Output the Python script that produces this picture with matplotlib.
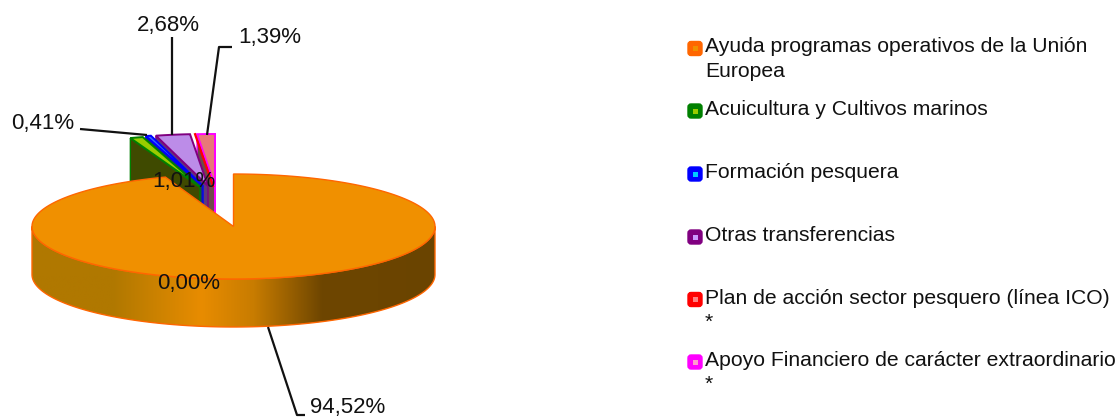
import numpy as np
import matplotlib
matplotlib.use("Agg")
import matplotlib.pyplot as plt
from matplotlib.colors import LinearSegmentedColormap
from matplotlib.patches import FancyBboxPatch, PathPatch, Rectangle
from matplotlib.path import Path

plt.rcParams['font.family'] = ['Liberation Sans', 'DejaVu Sans']

# data
categories = ["Ayuda programas operativos de la Unión\nEuropea",
              "Acuicultura y Cultivos marinos",
              "Formación pesquera",
              "Otras transferencias",
              "Plan de acción sector pesquero (línea ICO)\n*",
              "Apoyo Financiero de carácter extraordinario\n*"]
values = [94.52, 1.01, 0.41, 2.68, 0.00, 1.39]
value_labels = ["94,52%", "1,01%", "0,41%", "2,68%", "0,00%", "1,39%"]

edge_colors = ["#ff6600", "#008000", "#0000ff", "#800080", "#ff0000", "#ff00ff"]
face_colors = ["#f09000", "#99cc00", "#3366ff", "#bc8ce8", "#ff8080", "#e87878"]
side_colors = ["#8a5600", "#3f4a00", "#1a2a80", "#5e3a78", "#803030", "#6e4a4a"]
legend_centres = ["#f09000", "#99cc00", "#00ccff", "#cc99ff", "#ff8080", "#ff99cc"]

W, H = 1117, 418
fig = plt.figure(figsize=(W / 100, H / 100), dpi=100, facecolor="white")
ax = fig.add_axes([0, 0, 1, 1])
ax.set_xlim(0, W)
ax.set_ylim(H, 0)
ax.axis("off")

cx, cy, rx, ry, depth = 233.5, 226.5, 201.5, 52.5, 48
# where each exploded slice has its apex (series 1..5)
apex = {1: (200, 187), 2: (203, 186), 3: (208, 186), 4: (213, 186), 5: (215, 186)}
ex_rx, ex_ry = 206, 52


def rim(a0, a1, xc, yc, a, b, n=120):
    t = np.radians(np.linspace(a0, a1, n))
    return xc + a * np.sin(t), yc - b * np.cos(t)


deg = np.array(values) / sum(values) * 360
a_end = 360.0
small = []
for i in range(5, 0, -1):
    small.append((i, a_end - deg[i], a_end))
    a_end -= deg[i]

# exploded slices, right to left so that each covers the wall of the previous one
for i, a0, a1 in small:
    ax_, ay_ = apex[i]
    z = 2 + 0.1 * (5 - i)
    x, y = rim(a0, a1, ax_, ay_, ex_rx, ex_ry, 30)
    wall_x = [x[0], ax_, ax_, x[0]]
    wall_y = [y[0], ay_, ay_ + depth, y[0] + depth]
    if deg[i] == 0:
        ax.plot([ax_, x[0]], [ay_, y[0]], color=edge_colors[i], lw=1.6, zorder=z)
        continue
    ax.fill(wall_x, wall_y, facecolor=side_colors[i], edgecolor=edge_colors[i], lw=1, zorder=z)
    ax.fill(np.r_[ax_, x], np.r_[ay_, y], facecolor=face_colors[i],
            edgecolor=edge_colors[i], lw=1.4, joinstyle="miter", zorder=z + 0.05)
    if i == 5:
        ax.plot([x[-1], x[-1]], [y[-1], ay_ + depth], color=edge_colors[i], lw=1.4, zorder=z + 0.06)

# main slice: side wall with horizontal gradient, then top
bx, by = rim(90, 270, cx, cy, rx, ry)
verts = np.r_[np.c_[bx, by], np.c_[bx[::-1], by[::-1] + depth], [[bx[0], by[0]]]]
codes = [Path.MOVETO] + [Path.LINETO] * (len(verts) - 2) + [Path.CLOSEPOLY]
side_path = Path(verts, codes)
grad = LinearSegmentedColormap.from_list(
    "side", [(0, "#b07800"), (0.2, "#b07800"), (0.42, "#e88c00"),
             (0.55, "#c87c00"), (0.72, "#6e4600"), (1, "#6a4400")])
im = ax.imshow(np.linspace(0, 1, 256)[None, :], cmap=grad, aspect="auto",
               extent=(cx - rx, cx + rx, cy + ry + depth, cy), zorder=4)
clip = PathPatch(side_path, transform=ax.transData, facecolor="none", edgecolor="none")
ax.add_patch(clip)
im.set_clip_path(clip)
ax.set_xlim(0, W)
ax.set_ylim(H, 0)
ax.add_patch(PathPatch(side_path, facecolor="none", edgecolor=edge_colors[0], lw=1, zorder=4.5))

x, y = rim(0, deg[0], cx, cy, rx, ry, 360)
ax.fill(np.r_[cx, x], np.r_[cy, y], facecolor=face_colors[0], edgecolor=edge_colors[0],
        lw=1, joinstyle="miter", zorder=5)

# leader lines
leader_color = "#111111"
for xs, ys in [([268, 297, 305], [327, 415, 415]),
               ([147, 80], [135, 129]),
               ([172, 172], [135, 37]),
               ([207, 219, 232], [135, 47, 47])]:
    ax.plot(xs, ys, color=leader_color, lw=1.6, zorder=6, solid_capstyle="butt")

# value labels
label_xy = [(348, 408), (184, 181), (43, 124), (168, 25), (189, 283), (270, 38)]
for s, (lx, ly) in zip(value_labels, label_xy):
    ax.text(lx, ly, s, fontsize=16, color="#111111", ha="center", va="center", zorder=7)

# legend
legend_y = [48.5, 111, 174, 237, 299.5, 362]
for name, yy, ec, cc in zip(categories, legend_y, edge_colors, legend_centres):
    ax.add_patch(FancyBboxPatch((688, yy - 7), 14, 14, boxstyle="round,pad=0,rounding_size=3",
                                facecolor=ec, edgecolor=ec, lw=1, zorder=6))
    ax.add_patch(Rectangle((692.5, yy - 2.5), 5, 5, facecolor=cc, edgecolor="none", zorder=7))
    ax.text(705, yy - 11, name, fontsize=15.2, color="#111111", ha="left", va="top",
            linespacing=1.35, zorder=7)

fig.savefig("out.png", dpi=100, facecolor="white")
